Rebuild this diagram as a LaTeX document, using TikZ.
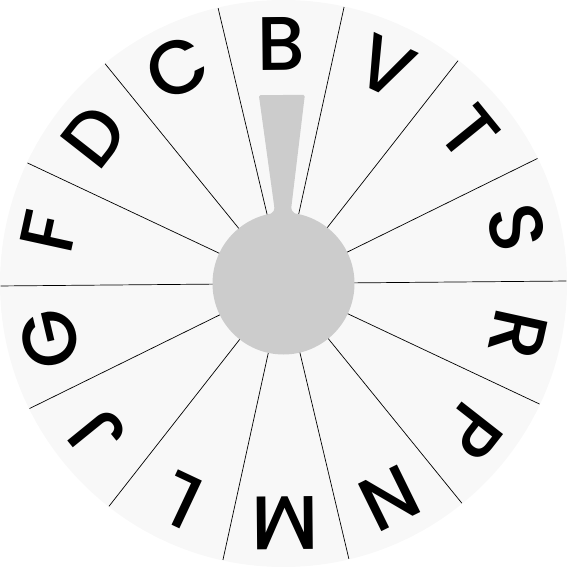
\documentclass[tikz,border=0pt]{standalone}
\usepackage{fontspec}
\setmainfont{Poppins}[UprightFont=* Medium]
\definecolor{wheelbg}{HTML}{F8F8F8}
\definecolor{hubgray}{HTML}{CCCCCC}
\begin{document}
\begin{tikzpicture}[x=1pt,y=1pt,
  spoke/.style={line width=0.7pt, black},
  letter/.style={font=\fontsize{76}{76}\selectfont, inner sep=0pt, text=black},
  hubnode/.style={circle, fill=hubgray, minimum size=142pt, inner sep=0pt}]
\useasboundingbox (-283.5pt,-283.5pt) rectangle (283.5pt,283.5pt);
\fill[wheelbg] (0,0) circle (283.5pt);
\foreach \k in {0,...,13}
  \draw[spoke] (0,0) -- ({\k*360/14+0.5}:283pt);
\fill[hubgray, rotate=0.5, rounded corners=1.5pt]
  (-23,188.5) -- (-8.6,77) [sharp corners] .. controls (-8.3,73.5) and (-9.5,71.5) .. (-12,70)
  -- (-12,50) -- (12,50) -- (12,70) .. controls (9.5,71.5) and (8.3,73.5) .. (8.6,77)
  [rounded corners=1.5pt] -- (23,188.5) -- cycle;
\node[hubnode] (hub) at (0,0) {};
\foreach \l [count=\i from 0] in {B,V,T,S,R,P,N,M,L,J,G,F,D,C}
  \node[letter, rotate={0.5-\i*360/14}] (L\l) at ({90.5-\i*360/14}:240pt) {\l};
\end{tikzpicture}
\end{document}
